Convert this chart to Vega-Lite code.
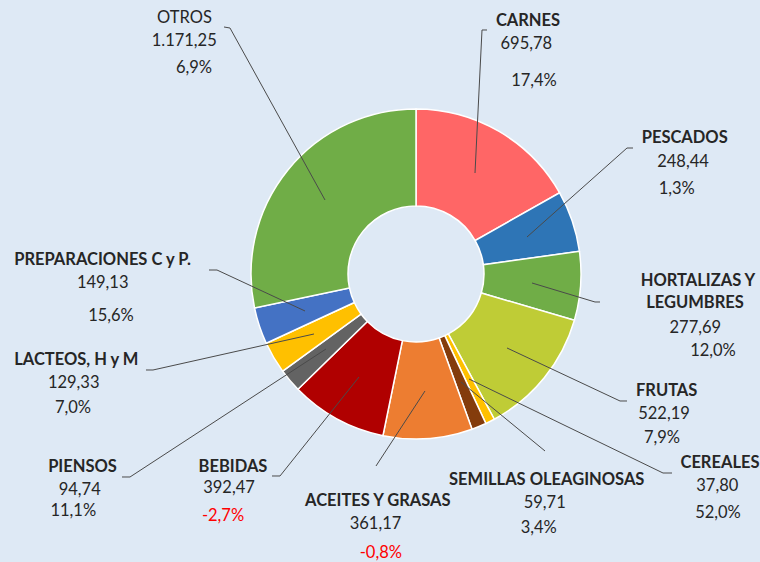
{
  "$schema": "https://vega.github.io/schema/vega-lite/v6.json",
  "width": 760,
  "height": 562,
  "autosize": {"type": "none"},
  "padding": 0,
  "background": "#DEE9F5",
  "view": {"stroke": null},
  "config": {"font": "Lato"},
  "datasets": {
    "slices": [
      {"cat": "CARNES", "value": 695.78, "order": 1},
      {"cat": "PESCADOS", "value": 248.44, "order": 2},
      {"cat": "HORTALIZAS Y LEGUMBRES", "value": 277.69, "order": 3},
      {"cat": "FRUTAS", "value": 522.19, "order": 4},
      {"cat": "CEREALES", "value": 37.80, "order": 5},
      {"cat": "SEMILLAS OLEAGINOSAS", "value": 59.71, "order": 6},
      {"cat": "ACEITES Y GRASAS", "value": 361.17, "order": 7},
      {"cat": "BEBIDAS", "value": 392.47, "order": 8},
      {"cat": "PIENSOS", "value": 94.74, "order": 9},
      {"cat": "LACTEOS, H y M", "value": 129.33, "order": 10},
      {"cat": "PREPARACIONES C y P.", "value": 149.13, "order": 11},
      {"cat": "OTROS", "value": 1171.25, "order": 12}
    ],
    "leaders": [
      {"cat": "OTROS", "seq": 1, "lx": -55.15, "ly": 44.85},
      {"cat": "OTROS", "seq": 2, "lx": -112.73, "ly": 149.09},
      {"cat": "OTROS", "seq": 3, "lx": -116.36, "ly": 149.70},
      {"cat": "CARNES", "seq": 1, "lx": 35.76, "ly": 61.21},
      {"cat": "CARNES", "seq": 2, "lx": 40.00, "ly": 147.88},
      {"cat": "CARNES", "seq": 3, "lx": 43.03, "ly": 147.88},
      {"cat": "PESCADOS", "seq": 1, "lx": 67.27, "ly": 22.42},
      {"cat": "PESCADOS", "seq": 2, "lx": 127.88, "ly": 76.36},
      {"cat": "PESCADOS", "seq": 3, "lx": 131.52, "ly": 76.36},
      {"cat": "HORTALIZAS Y LEGUMBRES", "seq": 1, "lx": 70.30, "ly": -5.45},
      {"cat": "HORTALIZAS Y LEGUMBRES", "seq": 2, "lx": 108.48, "ly": -16.97},
      {"cat": "HORTALIZAS Y LEGUMBRES", "seq": 3, "lx": 111.52, "ly": -16.97},
      {"cat": "FRUTAS", "seq": 1, "lx": 55.15, "ly": -44.85},
      {"cat": "FRUTAS", "seq": 2, "lx": 123.64, "ly": -76.97},
      {"cat": "FRUTAS", "seq": 3, "lx": 127.88, "ly": -76.97},
      {"cat": "CEREALES", "seq": 1, "lx": 32.12, "ly": -63.64},
      {"cat": "CEREALES", "seq": 2, "lx": 149.70, "ly": -120.61},
      {"cat": "CEREALES", "seq": 3, "lx": 155.15, "ly": -120.61},
      {"cat": "SEMILLAS OLEAGINOSAS", "seq": 1, "lx": 27.27, "ly": -65.45},
      {"cat": "SEMILLAS OLEAGINOSAS", "seq": 2, "lx": 78.18, "ly": -107.27},
      {"cat": "ACEITES Y GRASAS", "seq": 1, "lx": 5.45, "ly": -70.91},
      {"cat": "ACEITES Y GRASAS", "seq": 2, "lx": -24.24, "ly": -116.36},
      {"cat": "BEBIDAS", "seq": 1, "lx": -34.55, "ly": -62.42},
      {"cat": "BEBIDAS", "seq": 2, "lx": -82.42, "ly": -122.42},
      {"cat": "BEBIDAS", "seq": 3, "lx": -87.27, "ly": -122.42},
      {"cat": "PIENSOS", "seq": 1, "lx": -54.55, "ly": -45.45},
      {"cat": "PIENSOS", "seq": 2, "lx": -173.33, "ly": -123.03},
      {"cat": "PIENSOS", "seq": 3, "lx": -178.18, "ly": -123.03},
      {"cat": "LACTEOS, H y M", "seq": 1, "lx": -61.82, "ly": -36.36},
      {"cat": "LACTEOS, H y M", "seq": 2, "lx": -159.39, "ly": -58.18},
      {"cat": "LACTEOS, H y M", "seq": 3, "lx": -163.64, "ly": -58.18},
      {"cat": "PREPARACIONES C y P.", "seq": 1, "lx": -67.27, "ly": -22.42},
      {"cat": "PREPARACIONES C y P.", "seq": 2, "lx": -120.61, "ly": 2.42},
      {"cat": "PREPARACIONES C y P.", "seq": 3, "lx": -125.45, "ly": 2.42}
    ],
    "labels": [
      {"cat": "OTROS", "kind": "name", "text": "OTROS", "tx": -140.30, "ty": 152.30},
      {"cat": "OTROS", "kind": "value", "text": "1.171,25", "tx": -140.48, "ty": 138.18},
      {"cat": "OTROS", "kind": "pct", "text": "6,9%", "tx": -134.55, "ty": 122.00},
      {"cat": "CARNES", "kind": "name", "text": "CARNES", "tx": 67.88, "ty": 150.30},
      {"cat": "CARNES", "kind": "value", "text": "695,78", "tx": 66.85, "ty": 136.18},
      {"cat": "CARNES", "kind": "pct", "text": "17,4%", "tx": 71.52, "ty": 113.94},
      {"cat": "PESCADOS", "kind": "name", "text": "PESCADOS", "tx": 162.85, "ty": 79.58},
      {"cat": "PESCADOS", "kind": "value", "text": "248,44", "tx": 161.82, "ty": 65.03},
      {"cat": "PESCADOS", "kind": "pct", "text": "1,3%", "tx": 158.00, "ty": 48.48},
      {"cat": "HORTALIZAS Y LEGUMBRES", "kind": "name", "text": "HORTALIZAS Y", "tx": 170.91, "ty": -7.27},
      {"cat": "HORTALIZAS Y LEGUMBRES", "kind": "name", "text": "LEGUMBRES", "tx": 169.09, "ty": -20.79},
      {"cat": "HORTALIZAS Y LEGUMBRES", "kind": "value", "text": "277,69", "tx": 169.27, "ty": -35.58},
      {"cat": "HORTALIZAS Y LEGUMBRES", "kind": "pct", "text": "12,0%", "tx": 180.00, "ty": -49.70},
      {"cat": "FRUTAS", "kind": "name", "text": "FRUTAS", "tx": 151.94, "ty": -73.94},
      {"cat": "FRUTAS", "kind": "value", "text": "522,19", "tx": 150.30, "ty": -88.06},
      {"cat": "FRUTAS", "kind": "pct", "text": "7,9%", "tx": 149.09, "ty": -102.24},
      {"cat": "CEREALES", "kind": "name", "text": "CEREALES", "tx": 184.24, "ty": -117.39},
      {"cat": "CEREALES", "kind": "value", "text": "37,80", "tx": 182.61, "ty": -131.52},
      {"cat": "CEREALES", "kind": "pct", "text": "52,0%", "tx": 183.03, "ty": -148.06},
      {"cat": "SEMILLAS OLEAGINOSAS", "kind": "name", "text": "SEMILLAS OLEAGINOSAS", "tx": 79.21, "ty": -127.88},
      {"cat": "SEMILLAS OLEAGINOSAS", "kind": "value", "text": "59,71", "tx": 78.00, "ty": -142.00},
      {"cat": "SEMILLAS OLEAGINOSAS", "kind": "pct", "text": "3,4%", "tx": 74.42, "ty": -156.79},
      {"cat": "ACEITES Y GRASAS", "kind": "name", "text": "ACEITES Y GRASAS", "tx": -23.15, "ty": -140.61},
      {"cat": "ACEITES Y GRASAS", "kind": "value", "text": "361,17", "tx": -24.55, "ty": -154.73},
      {"cat": "ACEITES Y GRASAS", "kind": "pct", "text": "-0,8%", "tx": -21.33, "ty": -172.30},
      {"cat": "BEBIDAS", "kind": "name", "text": "BEBIDAS", "tx": -110.91, "ty": -119.82},
      {"cat": "BEBIDAS", "kind": "value", "text": "392,47", "tx": -113.33, "ty": -132.91},
      {"cat": "BEBIDAS", "kind": "pct", "text": "-2,7%", "tx": -116.97, "ty": -149.52},
      {"cat": "PIENSOS", "kind": "name", "text": "PIENSOS", "tx": -202.12, "ty": -119.82},
      {"cat": "PIENSOS", "kind": "value", "text": "94,74", "tx": -203.82, "ty": -133.94},
      {"cat": "PIENSOS", "kind": "pct", "text": "11,1%", "tx": -207.70, "ty": -146.48},
      {"cat": "LACTEOS, H y M", "kind": "name", "text": "LACTEOS, H y M", "tx": -205.88, "ty": -55.15},
      {"cat": "LACTEOS, H y M", "kind": "value", "text": "129,33", "tx": -207.45, "ty": -68.91},
      {"cat": "LACTEOS, H y M", "kind": "pct", "text": "7,0%", "tx": -207.88, "ty": -84.06},
      {"cat": "PREPARACIONES C y P.", "kind": "name", "text": "PREPARACIONES C y P.", "tx": -190.00, "ty": 5.45},
      {"cat": "PREPARACIONES C y P.", "kind": "value", "text": "149,13", "tx": -189.88, "ty": -8.67},
      {"cat": "PREPARACIONES C y P.", "kind": "pct", "text": "15,6%", "tx": -184.85, "ty": -28.30}
    ]
  },
  "layer": [
    {
      "data": {"name": "slices"},
      "mark": {"type": "arc", "outerRadius": 165, "innerRadius": 68, "stroke": "#FFFFFF", "strokeWidth": 1.5},
      "encoding": {
        "x": {"datum": 0, "type": "quantitative", "scale": {"domain": [-252.12, 208.48], "nice": false, "zero": false}, "axis": null},
        "y": {"datum": 0, "type": "quantitative", "scale": {"domain": [-174.55, 166.06], "nice": false, "zero": false}, "axis": null},
        "theta": {"field": "value", "type": "quantitative", "stack": true},
        "order": {"field": "order", "type": "quantitative"},
        "color": {
          "field": "cat", "type": "nominal", "legend": null,
          "scale": {
            "domain": ["CARNES", "PESCADOS", "HORTALIZAS Y LEGUMBRES", "FRUTAS", "CEREALES", "SEMILLAS OLEAGINOSAS", "ACEITES Y GRASAS", "BEBIDAS", "PIENSOS", "LACTEOS, H y M", "PREPARACIONES C y P.", "OTROS"],
            "range": ["#FF6666", "#2E75B6", "#70AD47", "#BFCC36", "#FFC000", "#843C0C", "#ED7D31", "#B00000", "#636363", "#FFC000", "#4472C4", "#70AD47"]
          }
        }
      }
    },
    {
      "data": {"name": "leaders"},
      "mark": {"type": "line", "color": "#4A4A4A", "strokeWidth": 1},
      "encoding": {
        "x": {"field": "lx", "type": "quantitative", "scale": {"domain": [-252.12, 208.48], "nice": false, "zero": false}, "axis": null},
        "y": {"field": "ly", "type": "quantitative", "scale": {"domain": [-174.55, 166.06], "nice": false, "zero": false}, "axis": null},
        "detail": {"field": "cat", "type": "nominal"},
        "order": {"field": "seq", "type": "quantitative"}
      }
    },
    {
      "data": {"name": "labels"},
      "transform": [{"filter": "datum.kind == 'name' && datum.cat != 'OTROS'"}],
      "mark": {"type": "text", "font": "Lato", "fontWeight": "bold", "fontSize": 16.5, "align": "center", "baseline": "alphabetic", "color": "#262626"},
      "encoding": {
        "x": {"field": "tx", "type": "quantitative", "scale": {"domain": [-252.12, 208.48], "nice": false, "zero": false}, "axis": null},
        "y": {"field": "ty", "type": "quantitative", "scale": {"domain": [-174.55, 166.06], "nice": false, "zero": false}, "axis": null},
        "text": {"field": "text", "type": "nominal"}
      }
    },
    {
      "data": {"name": "labels"},
      "transform": [{"filter": "!(datum.kind == 'name' && datum.cat != 'OTROS')"}],
      "mark": {"type": "text", "font": "Lato", "fontSize": 16.5, "align": "center", "baseline": "alphabetic"},
      "encoding": {
        "x": {"field": "tx", "type": "quantitative", "scale": {"domain": [-252.12, 208.48], "nice": false, "zero": false}, "axis": null},
        "y": {"field": "ty", "type": "quantitative", "scale": {"domain": [-174.55, 166.06], "nice": false, "zero": false}, "axis": null},
        "text": {"field": "text", "type": "nominal"},
        "color": {"condition": {"test": "indexof(datum.text, '-') == 0", "value": "#FF0000"}, "value": "#262626"}
      }
    }
  ]
}
